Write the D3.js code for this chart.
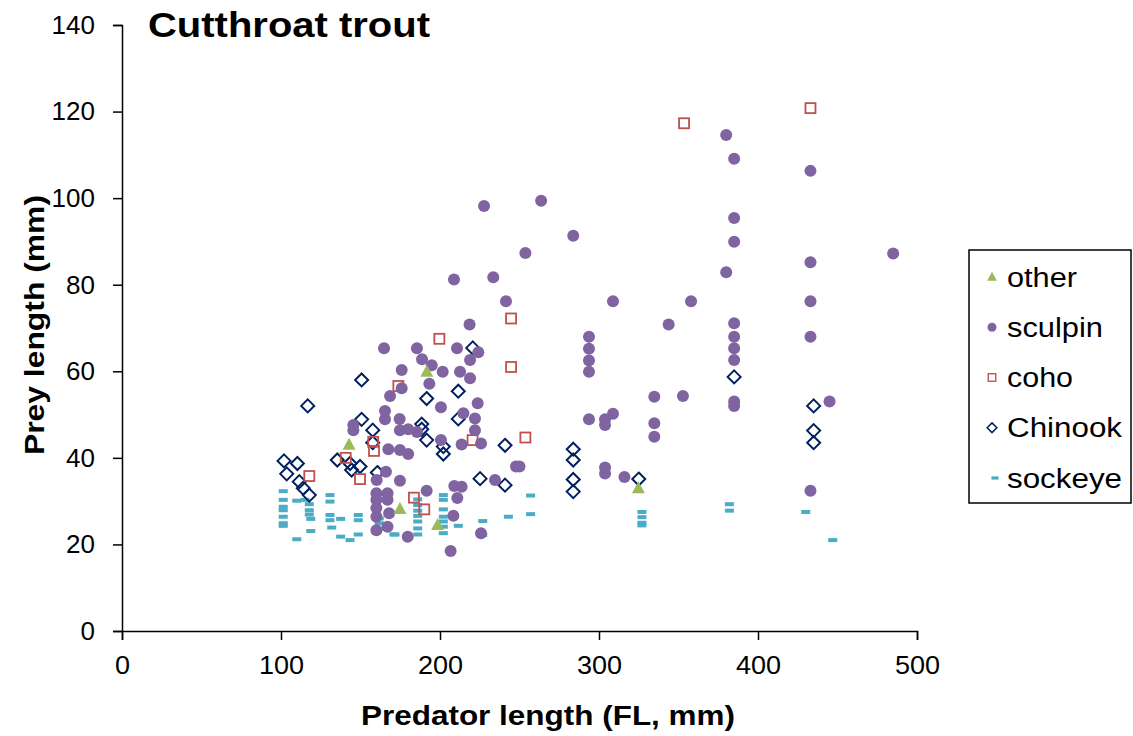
<!DOCTYPE html>
<html>
<head>
<meta charset="utf-8">
<script src="https://cdn.jsdelivr.net/npm/d3@7"></script>
<style>
body { margin: 0; background: #fff; }
text { font-family: "Liberation Sans", Arial, sans-serif; }
</style>
</head>
<body>
<svg width="1133" height="736"></svg>
<script>
var svg = d3.select('svg');

// prey length vs predator length
var other = [[142.8, 43], [191.7, 59.9], [174.8, 28.2], [198.5, 24.5], [324.8, 33]];

var sculpin = [
    [227.7, 98.2], [263.6, 99.4], [283.8, 91.3], [253.7, 87.3], [208.8, 81.2], [233.5, 81.7],
    [241.5, 76.2], [218.6, 70.8], [164.8, 65.3], [185.5, 65.3], [210.7, 65.3], [224.1, 64.4],
    [188.7, 62.8], [218.9, 62.6], [194.8, 61.4], [175.9, 60.3], [201.7, 59.9], [212.6, 59.9],
    [218.9, 58.4], [193.3, 57.1], [175.9, 56.1], [168.6, 54.3], [223.7, 52.6], [200.6, 51.7],
    [165.4, 50.8], [214.7, 50.3], [165.4, 48.9], [174.6, 49], [222, 49.1], [145.5, 47.6],
    [145.5, 46.4], [174.8, 46.4], [180, 46.6], [185.5, 46], [222, 46.4], [200.6, 44.1],
    [213.6, 43.1], [225.8, 43.3], [167.5, 42], [174.8, 41.8], [180, 40.9], [247.8, 38],
    [166, 36.8], [234.6, 34.9], [174.8, 34.7], [160.2, 34.9], [209, 33.5], [213.6, 33.3],
    [191.6, 32.4], [160, 31.8], [167, 31.8], [160, 30.3], [167, 30.3], [210.9, 30.7],
    [160, 28.4], [168, 27.2], [160, 26.4], [208.4, 26.6], [167, 24.1], [160, 23.3],
    [225.8, 22.6], [179.7, 21.8], [206.7, 18.5],
    [293.7, 68], [293.7, 65.2], [293.7, 62.5], [293.7, 59.9], [293.7, 48.9], [303.8, 48.9],
    [303.8, 47.6], [308.8, 50.2], [308.8, 76.2], [357.9, 76.2], [343.8, 70.8], [334.8, 54.1],
    [352.8, 54.3], [334.8, 48], [334.8, 44.9], [303.8, 37.8], [303.8, 36.4], [316, 35.6],
    [250, 38],
    [380, 114.6], [385, 109.1], [385, 95.4], [385, 89.9], [380, 82.9], [385, 71.1], [385, 68],
    [385, 65.3], [385, 62.6], [385, 53], [385, 52],
    [433, 106.3], [433, 85.2], [433, 76.2], [433, 68], [433, 32.4], [445, 53], [485, 87.2]
];

var coho = [
    [353.5, 117.3], [433, 120.8], [244.7, 72.2], [244.7, 61], [199.6, 67.5], [173.8, 56.6],
    [220.5, 44.1], [253.7, 44.7], [158, 43.7], [158.5, 41.6], [140.7, 40], [117.8, 35.8],
    [149.7, 35.1], [183.6, 30.8], [190.1, 28.1]
];

var chinook = [
    [220.6, 65.4], [150.7, 58], [116.8, 52], [211.5, 55.4], [191.6, 53.7], [211.5, 49],
    [150.7, 48.9], [188.5, 47.8], [188.5, 46.6], [157.7, 46.4], [191.6, 44.1], [157.7, 43.5],
    [202.1, 42.6], [202.1, 40.9], [240.9, 42.9], [101.9, 39.3], [110.3, 38.7], [103.6, 36.3],
    [111.5, 34.5], [114, 33], [117.8, 31.4], [135.4, 39.5], [143.4, 38.7], [144.4, 37.2],
    [149.7, 38], [160.6, 36.6], [225.2, 35.2], [240.9, 33.7],
    [283.8, 42], [283.8, 39.5], [283.8, 35], [283.8, 32.2], [325, 35.1],
    [385, 58.7], [435, 52], [435, 46.3], [435, 43.5]
];

var sockeye = [
    [101.4, 32.3], [101.4, 30.3], [101.4, 28.7], [101.4, 27.9], [101.4, 26.4], [101.4, 24.9],
    [101.4, 24.3], [109.9, 30.1], [109.9, 21.2], [115.1, 30.3], [117.8, 29.3], [117.8, 27.9],
    [117.8, 26.9], [118.7, 25.9], [118.7, 23.1], [130.8, 31.4], [130.8, 29.9], [130.8, 26.8],
    [130.8, 25.6], [131.9, 23.9], [137.5, 25.9], [137.5, 21.8], [143.4, 21], [148.6, 26.8],
    [148.6, 25.6], [148.6, 22.3], [161.8, 30.3], [161.8, 26], [161.8, 24.9], [161.8, 23.6],
    [171, 22.3], [171.7, 22.3],
    [186, 30.4], [186, 29.1], [186, 27.8], [186, 26.6], [186, 25.3], [186, 23.7], [186, 22.3],
    [202.1, 31.4], [202.1, 30.3], [202.1, 28.1], [202.1, 26.4], [202.1, 25.3], [202.1, 24.1],
    [202.1, 22.6], [211.5, 24.3], [226.9, 25.4], [226.9, 22.2], [243, 26.4], [257, 31.3],
    [257, 27], [327, 27.5], [327, 26.3], [327, 25], [327, 24.4], [382, 29.3], [382, 27.8],
    [430, 27.5], [447, 21]
];

var xTicks = [0, 100, 200, 300, 400, 500];
var yTicks = [0, 20, 40, 60, 80, 100, 120, 140];
var legendNames = ['other', 'sculpin', 'coho', 'Chinook', 'sockeye'];

var x = d3.scaleLinear().domain([0, 500]).range([122, 917]);
var y = d3.scaleLinear().domain([0, 140]).range([631, 25]);

// axes
svg.append('g')
    .attr('transform', 'translate(0,631)')
    .call(d3.axisBottom(x).tickValues(xTicks).tickSize(9).tickPadding(16))
    .call(function (g) {
        g.select('.domain').attr('stroke', '#000').attr('stroke-width', 1.5);
        g.selectAll('line').attr('stroke-width', 1.5);
        g.selectAll('text').attr('font-size', 26).attr('font-family', 'Liberation Sans, Arial')
            .attr('transform', 'scale(1.04,1)');
    });

svg.append('g')
    .attr('transform', 'translate(122,0)')
    .call(d3.axisLeft(y).tickValues(yTicks).tickSize(9).tickPadding(18))
    .call(function (g) {
        g.select('.domain').attr('stroke', '#000').attr('stroke-width', 1.5);
        g.selectAll('line').attr('stroke-width', 1.5);
        g.selectAll('text').attr('font-size', 26).attr('font-family', 'Liberation Sans, Arial');
    });

// markers
function drawSockeye(sel) {
    sel.append('rect').attr('x', -4.5).attr('y', -2).attr('width', 9).attr('height', 4)
        .attr('fill', '#4BACC6');
}
function drawChinook(sel) {
    sel.append('path').attr('d', 'M0,-6.5L6.5,0L0,6.5L-6.5,0Z')
        .attr('fill', 'none').attr('stroke', '#002060').attr('stroke-width', 2);
}
function drawCoho(sel) {
    sel.append('rect').attr('x', -5).attr('y', -5).attr('width', 10).attr('height', 10)
        .attr('fill', 'none').attr('stroke', '#C0504D').attr('stroke-width', 1.8);
}
function drawSculpin(sel) {
    sel.append('circle').attr('r', 6).attr('fill', '#8064A2');
}
function drawOther(sel) {
    sel.append('path').attr('d', 'M0,-7L6.5,5L-6.5,5Z').attr('fill', '#9BBB59');
}

function plot(data, drawer) {
    var g = svg.append('g').selectAll('g')
        .data(data)
        .enter()
        .append('g')
        .attr('transform', function (d) { return 'translate(' + x(d[0]) + ',' + y(d[1]) + ')'; });
    drawer(g);
}

plot(sockeye, drawSockeye);
plot(chinook, drawChinook);
plot(coho, drawCoho);
plot(sculpin, drawSculpin);
plot(other, drawOther);

// titles
svg.append('text').attr('x', 148).attr('y', 37)
    .attr('font-size', 35).attr('font-weight', 'bold')
    .attr('textLength', 282).attr('lengthAdjust', 'spacingAndGlyphs')
    .text('Cutthroat trout');

svg.append('text').attr('x', 361).attr('y', 725)
    .attr('font-size', 28).attr('font-weight', 'bold')
    .attr('textLength', 374).attr('lengthAdjust', 'spacingAndGlyphs')
    .text('Predator length (FL, mm)');

svg.append('text').attr('transform', 'translate(44,455) rotate(-90)')
    .attr('font-size', 28).attr('font-weight', 'bold')
    .attr('textLength', 260).attr('lengthAdjust', 'spacingAndGlyphs')
    .text('Prey length (mm)');

// legend
var legend = svg.append('g');
legend.append('rect').attr('x', 969).attr('y', 250).attr('width', 162).attr('height', 253)
    .attr('fill', '#fff').attr('stroke', '#000').attr('stroke-width', 1.5);

var legendDraw = [drawOther, drawSculpin, drawCoho, drawChinook, drawSockeye];
var legendWidth = [70, 96, 66, 115, 115];
var legendY = d3.scalePoint().domain(legendNames).range([277, 478]);

legendNames.forEach(function (name, i) {
    var item = legend.append('g').attr('transform', 'translate(992,' + legendY(name) + ')');
    var m = item.append('g').attr('transform', name === 'sockeye' ? 'translate(3,0) scale(0.8)' : 'scale(0.75)');
    legendDraw[i](m);
    item.append('text').attr('x', 15).attr('y', 9.5).attr('font-size', 27)
        .attr('textLength', legendWidth[i]).attr('lengthAdjust', 'spacingAndGlyphs')
        .text(name);
});
</script>
</body>
</html>
